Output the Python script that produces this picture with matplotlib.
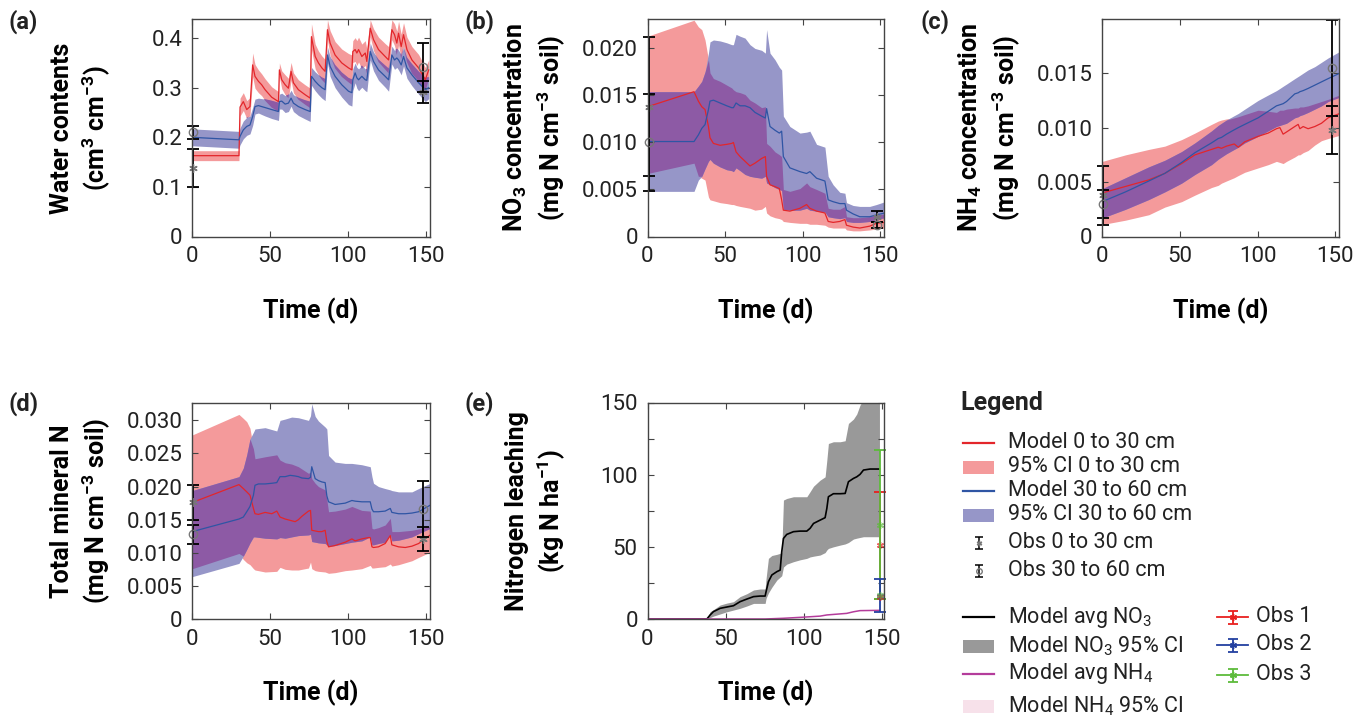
import numpy as np
import matplotlib
matplotlib.use("Agg")
from matplotlib import pyplot as plt
from matplotlib.patches import Rectangle

plt.rcParams["font.family"] = ["Roboto", "DejaVu Sans"]
plt.rcParams["mathtext.fontset"] = "custom"
plt.rcParams["mathtext.rm"] = "Roboto"
plt.rcParams["mathtext.bf"] = "Roboto:bold"
plt.rcParams["mathtext.default"] = "regular"

RED = "#e3262b"
BLUE = "#2f55a4"
RED_CI = "#f49a9b"
BLUE_CI = "#9696c8"
PURPLE = "#8d5aa5"
GRAY_CI = "#999999"
MAGENTA = "#b43c9b"
PINK_CI = "#f7e1ea"
OBS = "#777777"
STAR = (6, 2, 0)

# ---- (a) water contents ----
t_a = [0, 30, 30.7, 32.8, 35, 37.1, 38.8, 40.3, 42.5, 44.6, 46.8, 51, 55.4, 56, 57.5, 59.7, 61.8,
       63.5, 65, 68.2, 72.5, 75.8, 76.6, 79, 81.1, 83.3, 85.4, 86.9, 88.6, 91.8, 96.1, 100.4, 102.6,
       103.2, 104.7, 105.8, 106.9, 109, 111.2, 112.2, 114.4, 116.5, 119.7, 124, 126.2, 128.3, 130,
       131.5, 132.6, 134.3, 135.8, 138, 141.2, 145.5, 149.8, 152]
wc_red = [0.163, 0.163, 0.261, 0.272, 0.256, 0.262, 0.346, 0.323, 0.313, 0.306, 0.296, 0.281, 0.272,
          0.336, 0.316, 0.306, 0.299, 0.333, 0.310, 0.296, 0.286, 0.279, 0.403, 0.363, 0.350, 0.340,
          0.333, 0.417, 0.390, 0.366, 0.350, 0.340, 0.336, 0.373, 0.377, 0.370, 0.377, 0.363, 0.370,
          0.353, 0.420, 0.397, 0.377, 0.363, 0.356, 0.417, 0.407, 0.390, 0.410, 0.383, 0.407, 0.377,
          0.356, 0.340, 0.316, 0.336]
wc_blue = [0.200, 0.195, 0.202, 0.215, 0.222, 0.225, 0.242, 0.262, 0.264, 0.262, 0.260, 0.256, 0.252,
           0.272, 0.273, 0.267, 0.269, 0.279, 0.269, 0.262, 0.256, 0.252, 0.323, 0.313, 0.306, 0.300,
           0.296, 0.366, 0.343, 0.323, 0.306, 0.293, 0.290, 0.316, 0.330, 0.320, 0.316, 0.323, 0.316,
           0.315, 0.373, 0.353, 0.336, 0.323, 0.316, 0.366, 0.356, 0.360, 0.356, 0.346, 0.363, 0.340,
           0.326, 0.310, 0.296, 0.300]
wc_red_ci = [0.010, 0.010, 0.018, 0.018, 0.018, 0.018, 0.024, 0.024, 0.023, 0.022, 0.022, 0.021, 0.020,
             0.014, 0.018, 0.020, 0.020, 0.018, 0.020, 0.020, 0.020, 0.020, 0.026, 0.025, 0.024, 0.024,
             0.024, 0.020, 0.025, 0.027, 0.028, 0.029, 0.030, 0.022, 0.024, 0.025, 0.025, 0.025, 0.025,
             0.025, 0.017, 0.022, 0.025, 0.026, 0.027, 0.020, 0.022, 0.024, 0.024, 0.025, 0.024, 0.025,
             0.027, 0.027, 0.025, 0.020]
wc_blue_ci = [0.017, 0.017, 0.017, 0.018, 0.018, 0.018, 0.018, 0.015, 0.015, 0.016, 0.017, 0.018, 0.018,
              0.015, 0.016, 0.017, 0.017, 0.016, 0.017, 0.018, 0.019, 0.020, 0.018, 0.019, 0.020, 0.021,
              0.022, 0.016, 0.020, 0.023, 0.025, 0.027, 0.027, 0.022, 0.020, 0.021, 0.022, 0.022, 0.022,
              0.023, 0.017, 0.019, 0.021, 0.022, 0.023, 0.018, 0.019, 0.019, 0.020, 0.020, 0.019, 0.021,
              0.022, 0.023, 0.024, 0.022]
wc_obs_star = [0.138, 0.291]
wc_obs_star_err = [0.039, 0.022]
wc_obs_circ = [0.210, 0.341]
wc_obs_circ_err = [0.0125, 0.049]

# ---- (b) NO3 ----
t_b = [0, 30, 32.8, 35, 37.1, 39.3, 40.3, 42.5, 46.8, 51.1, 54.3, 55.4, 57.1, 59.7, 62.9, 66.1, 69.3,
       73.6, 76, 76.8, 79, 82.2, 85, 86.5, 87.6, 91.8, 98.3, 102.6, 104.7, 109, 114.4, 116.5, 119.7,
       124, 127.3, 128.3, 132.6, 136.9, 143.3, 147.6, 153]
no3_red = [0.0138, 0.0154, 0.0144, 0.0138, 0.0135, 0.0117, 0.0105, 0.0099, 0.0097, 0.0098, 0.0099,
           0.0100, 0.0090, 0.0085, 0.0080, 0.0075, 0.0078, 0.0083, 0.0085, 0.0064, 0.0055, 0.0053,
           0.0051, 0.0039, 0.0028, 0.0027, 0.0030, 0.0034, 0.0030, 0.0027, 0.0025, 0.0016, 0.0015,
           0.0016, 0.0018, 0.0012, 0.0010, 0.0009, 0.0011, 0.0014, 0.0015]
no3_blue = [0.0101, 0.0101, 0.0108, 0.0115, 0.0119, 0.0135, 0.0144, 0.0145, 0.0142, 0.0139, 0.0137,
            0.0137, 0.0142, 0.0139, 0.0139, 0.0137, 0.0132, 0.0128, 0.0126, 0.0136, 0.0117, 0.0113,
            0.0110, 0.0112, 0.0085, 0.0073, 0.0069, 0.0067, 0.0069, 0.0062, 0.0059, 0.0039, 0.0037,
            0.0035, 0.0035, 0.0028, 0.0024, 0.0021, 0.0021, 0.0023, 0.0025]
no3_red_hi = [0.0213, 0.0230, 0.0223, 0.0220, 0.0209, 0.0188, 0.0174, 0.0168, 0.0165, 0.0161, 0.0158,
              0.0156, 0.0154, 0.0153, 0.0151, 0.0145, 0.0142, 0.0137, 0.0138, 0.0099, 0.0096, 0.0090,
              0.0087, 0.0085, 0.0050, 0.0048, 0.0051, 0.0057, 0.0053, 0.0050, 0.0046, 0.0030, 0.0029,
              0.0029, 0.0032, 0.0021, 0.0020, 0.0020, 0.0021, 0.0023, 0.0024]
no3_red_lo = [0.0067, 0.0078, 0.0064, 0.0062, 0.0060, 0.0042, 0.0039, 0.0038, 0.0036, 0.0035, 0.0034,
              0.0034, 0.0033, 0.0032, 0.0031, 0.0030, 0.0028, 0.0029, 0.0032, 0.0025, 0.0022, 0.0020,
              0.0019, 0.0018, 0.0016, 0.0015, 0.0014, 0.0014, 0.0013, 0.0013, 0.0012, 0.0010, 0.0009,
              0.0009, 0.0009, 0.0007, 0.0006, 0.0006, 0.0007, 0.0008, 0.0009]
no3_blue_hi = [0.0154, 0.0154, 0.0160, 0.0165, 0.0175, 0.0195, 0.0207, 0.0209, 0.0208, 0.0206, 0.0204,
               0.0204, 0.0215, 0.0213, 0.0211, 0.0204, 0.0200, 0.0198, 0.0195, 0.0220, 0.0195, 0.0188,
               0.0180, 0.0177, 0.0128, 0.0117, 0.0110, 0.0111, 0.0112, 0.0098, 0.0095, 0.0064, 0.0055,
               0.0047, 0.0046, 0.0036, 0.0033, 0.0032, 0.0032, 0.0034, 0.0037]
no3_blue_lo = [0.0048, 0.0048, 0.0060, 0.0064, 0.0072, 0.0080, 0.0082, 0.0078, 0.0074, 0.0071, 0.0070,
               0.0069, 0.0073, 0.0070, 0.0066, 0.0064, 0.0063, 0.0062, 0.0064, 0.0057, 0.0055, 0.0052,
               0.0050, 0.0049, 0.0029, 0.0028, 0.0028, 0.0030, 0.0028, 0.0027, 0.0026, 0.0021, 0.0020,
               0.0019, 0.0020, 0.0016, 0.0015, 0.0015, 0.0016, 0.0018, 0.0020]
no3_obs_star = [0.0138, 0.0021]
no3_obs_star_err = [0.0074, 0.0006]
no3_obs_circ = [0.0100, 0.0012]
no3_obs_circ_err = [0.0052, 0.0003]

# ---- (c) NH4 ----
t_c = [0, 15, 30, 40.3, 51.1, 59.7, 70.4, 74.7, 76.8, 80, 85, 87.6, 91.8, 100.4, 106.9, 112.2, 114.4,
       116.5, 118.7, 124, 126.2, 127.3, 129.4, 132.6, 136.9, 141.2, 145.5, 153]
nh4_red = [0.0040, 0.0046, 0.0052, 0.0058, 0.0067, 0.0075, 0.0080, 0.0082, 0.0081, 0.0083, 0.0085,
           0.0082, 0.0087, 0.0092, 0.0095, 0.0099, 0.0100, 0.0094, 0.0096, 0.0101, 0.0103, 0.0099,
           0.0101, 0.0099, 0.0101, 0.0104, 0.0109, 0.0113]
nh4_blue = [0.0032, 0.0041, 0.0051, 0.0058, 0.0068, 0.0077, 0.0086, 0.0090, 0.0091, 0.0094, 0.0098,
            0.0100, 0.0103, 0.0109, 0.0115, 0.0120, 0.0121, 0.0122, 0.0124, 0.0131, 0.0132, 0.0133,
            0.0134, 0.0136, 0.0139, 0.0142, 0.0145, 0.0150]
nh4_red_hi = [0.0069, 0.0075, 0.0080, 0.0083, 0.0089, 0.0095, 0.0103, 0.0106, 0.0107, 0.0108, 0.0109,
              0.0110, 0.0112, 0.0116, 0.0115, 0.0114, 0.0116, 0.0116, 0.0117, 0.0118, 0.0118, 0.0119,
              0.0119, 0.0120, 0.0122, 0.0124, 0.0126, 0.0130]
nh4_red_lo = [0.0011, 0.0015, 0.0020, 0.0027, 0.0032, 0.0038, 0.0045, 0.0047, 0.0049, 0.0051, 0.0054,
              0.0056, 0.0059, 0.0063, 0.0066, 0.0069, 0.0068, 0.0067, 0.0069, 0.0073, 0.0075, 0.0075,
              0.0077, 0.0079, 0.0084, 0.0088, 0.0090, 0.0093]
nh4_blue_hi = [0.0044, 0.0054, 0.0064, 0.0070, 0.0078, 0.0086, 0.0097, 0.0102, 0.0104, 0.0107, 0.0111,
               0.0113, 0.0117, 0.0125, 0.0130, 0.0134, 0.0136, 0.0138, 0.0140, 0.0145, 0.0147, 0.0148,
               0.0150, 0.0153, 0.0156, 0.0160, 0.0164, 0.0170]
nh4_blue_lo = [0.0017, 0.0025, 0.0034, 0.0041, 0.0049, 0.0057, 0.0066, 0.0071, 0.0073, 0.0076, 0.0080,
               0.0082, 0.0086, 0.0092, 0.0097, 0.0101, 0.0102, 0.0103, 0.0104, 0.0109, 0.0110, 0.0111,
               0.0112, 0.0114, 0.0117, 0.0120, 0.0124, 0.0128]
nh4_obs_star = [0.0038, 0.0098]
nh4_obs_star_err = [0.0027, 0.0022]
nh4_obs_circ = [0.0030, 0.0155]
nh4_obs_circ_err = [0.0013, 0.0044]

# ---- (d) total mineral N ----
t_d = [0, 30, 32.8, 35, 37.1, 39.3, 40.3, 42.5, 46.8, 51.1, 54.3, 56.4, 59.7, 62.9, 66.1, 68.2, 70.4,
       74.7, 76, 76.8, 79, 81.1, 83.3, 85.4, 86.5, 87.6, 91.8, 98.3, 102.6, 104.7, 109, 113.3, 114.4,
       115.5, 116.5, 119.7, 124, 127.3, 128.3, 132.6, 136.9, 141.2, 145.5, 153]
tn_red = [0.0176, 0.0203, 0.0197, 0.0192, 0.0187, 0.0167, 0.0159, 0.0158, 0.0161, 0.0159, 0.0163,
          0.0154, 0.0151, 0.0149, 0.0147, 0.0150, 0.0155, 0.0163, 0.0164, 0.0134, 0.0133, 0.0132,
          0.0132, 0.0134, 0.0117, 0.0109, 0.0111, 0.0116, 0.0121, 0.0118, 0.0121, 0.0123, 0.0123,
          0.0109, 0.0108, 0.0109, 0.0114, 0.0126, 0.0112, 0.0109, 0.0108, 0.0110, 0.0114, 0.0127]
tn_blue = [0.0132, 0.0151, 0.0154, 0.0162, 0.0170, 0.0187, 0.0202, 0.0204, 0.0204, 0.0205, 0.0206,
           0.0215, 0.0215, 0.0217, 0.0216, 0.0215, 0.0213, 0.0212, 0.0214, 0.0230, 0.0212, 0.0209,
           0.0207, 0.0206, 0.0186, 0.0177, 0.0173, 0.0175, 0.0179, 0.0178, 0.0177, 0.0177, 0.0177,
           0.0166, 0.0162, 0.0162, 0.0163, 0.0167, 0.0161, 0.0159, 0.0159, 0.0160, 0.0162, 0.0172]
t_d_ci = [0, 30, 32.8, 35, 37.1, 39.3, 40.3, 46.8, 54.3, 56.4, 59.7, 63.9, 68.2, 74.7, 76, 76.8, 79,
          81.1, 85.4, 86.5, 87.6, 91.8, 98.3, 102.6, 109, 114.4, 115.5, 116.5, 119.7, 124, 127.3,
          128.3, 132.6, 141.2, 145.5, 153]
tn_red_hi = [0.0278, 0.0309, 0.0303, 0.0298, 0.0288, 0.0257, 0.0242, 0.0245, 0.0248, 0.0240, 0.0236,
             0.0234, 0.0230, 0.0220, 0.0222, 0.0212, 0.0205, 0.0200, 0.0195, 0.0180, 0.0162, 0.0163,
             0.0166, 0.0170, 0.0164, 0.0163, 0.0137, 0.0136, 0.0138, 0.0142, 0.0152, 0.0132, 0.0132,
             0.0134, 0.0136, 0.0140]
tn_red_lo = [0.0076, 0.0099, 0.0090, 0.0085, 0.0082, 0.0076, 0.0074, 0.0071, 0.0072, 0.0078, 0.0075,
             0.0074, 0.0074, 0.0077, 0.0086, 0.0076, 0.0073, 0.0072, 0.0071, 0.0070, 0.0069, 0.0070,
             0.0073, 0.0074, 0.0076, 0.0081, 0.0077, 0.0077, 0.0078, 0.0079, 0.0083, 0.0080, 0.0082,
             0.0088, 0.0093, 0.0101]
tn_blue_hi = [0.0194, 0.0215, 0.0228, 0.0248, 0.0272, 0.0282, 0.0287, 0.0289, 0.0284, 0.0300, 0.0302,
              0.0305, 0.0304, 0.0300, 0.0307, 0.0325, 0.0306, 0.0299, 0.0290, 0.0287, 0.0247, 0.0237,
              0.0235, 0.0235, 0.0233, 0.0230, 0.0215, 0.0205, 0.0200, 0.0197, 0.0195, 0.0194, 0.0192,
              0.0192, 0.0197, 0.0205]
tn_blue_lo = [0.0064, 0.0084, 0.0095, 0.0105, 0.0115, 0.0124, 0.0124, 0.0122, 0.0121, 0.0123, 0.0122,
              0.0124, 0.0126, 0.0127, 0.0128, 0.0117, 0.0116, 0.0115, 0.0114, 0.0112, 0.0110, 0.0111,
              0.0114, 0.0116, 0.0118, 0.0124, 0.0112, 0.0112, 0.0114, 0.0116, 0.0128, 0.0118, 0.0119,
              0.0124, 0.0129, 0.0137]
tn_obs_star = [0.0176, 0.0121]
tn_obs_star_err = [0.0027, 0.0018]
tn_obs_circ = [0.0128, 0.0166]
tn_obs_circ_err = [0.0014, 0.0042]

obs_days = [0.7, 148]

# ---- (e) nitrogen leaching ----
t_e = [0, 37.9, 40, 42.1, 46.4, 50.6, 54.9, 59.1, 63.4, 67.7, 71.9, 75.1, 75.7, 77.2, 79.4, 82.6, 84.7,
       85.7, 86.8, 88.9, 93.2, 97.4, 101.7, 103.8, 106, 110.2, 113.4, 114.5, 115.5, 118.7, 123, 126.2,
       128.3, 131.5, 133.6, 135.7, 137.9, 142.1, 148.1]
leach_no3 = [0, 0, 2.8, 5.1, 7.4, 8.3, 9.2, 12, 13.8, 15.5, 15.9, 15.9, 18.9, 25.8, 30.5, 32.8, 33.9,
             46.6, 55.8, 58.6, 60.5, 60.9, 60.9, 62.8, 66.2, 68.5, 70.2, 76.6, 84.7, 86.8, 86.8, 87,
             95.1, 97.4, 98.5, 100.2, 103.2, 103.9, 103.9]
leach_no3_hi = [0, 0, 5.1, 6.5, 9.7, 11, 12, 15.5, 17.5, 20.1, 20.8, 20.8, 28, 42, 44, 44.8, 45.5, 46,
                82.4, 83.5, 84.7, 84.7, 84.7, 88.2, 92, 96.2, 98.5, 110, 121.6, 122.8, 122.8, 123.5,
                135.5, 138.5, 142, 148.2, 152, 155, 155]
leach_no3_lo = [0, 0, 1, 2, 3.5, 5, 6.2, 7.4, 9, 10.8, 10.8, 10.8, 14.3, 18, 22, 27, 29, 30, 36, 38,
                39.7, 41, 42, 43, 43.5, 44.3, 46, 47.8, 48.9, 50, 51.2, 52, 53, 55.4, 56, 56.5, 57, 57,
                57]
t_nh4 = [0, 75, 86.8, 100, 110.2, 114.5, 127.2, 131.5, 135.7, 148.1]
leach_nh4 = [0, 0, 0.5, 1.3, 2.0, 2.8, 3.9, 5.0, 5.8, 6.0]
leach_obs_day = 148.5
leach_obs = {"red": (51, 37, 37), "green": (65, 51, 52), "blue": (16, 11.4, 11.5)}
leach_obs_extra = {"red": 15, "green": 16.5}
OBS_COL = {"red": "#e8201f", "green": "#5dbb3b", "blue": "#2340a0"}


def style(ax, xmax, ymax, yticks, ylabels, ylabel):
    ax.set_xlim(0, xmax)
    ax.set_ylim(0, ymax)
    ax.set_xticks([0, 50, 100, 150])
    ax.set_yticks(yticks)
    ax.set_yticklabels(ylabels)
    ax.tick_params(direction="in", top=True, right=True, length=4, width=0.8,
                   labelsize=16, color="#444444", labelcolor="#222222")
    ax.tick_params(axis="x", pad=7)
    ax.tick_params(axis="y", pad=7)
    for s in ax.spines.values():
        s.set_color("#444444")
        s.set_linewidth(1.0)
    ax.set_xlabel("Time (d)", fontsize=18, fontweight="bold")
    ax.xaxis.set_label_coords(0.5, -0.28)
    ax.set_ylabel(ylabel, fontsize=18, fontweight="bold", linespacing=1.2)
    ax.yaxis.set_label_coords(-0.34, 0.5)


def depth_panel(ax, t, red, blue, tci, red_lo, red_hi, blue_lo, blue_hi,
                star, star_err, circ, circ_err):
    red_lo, red_hi = np.asarray(red_lo), np.asarray(red_hi)
    blue_lo, blue_hi = np.asarray(blue_lo), np.asarray(blue_hi)
    ax.fill_between(tci, red_lo, red_hi, color=RED_CI, lw=0)
    ax.fill_between(tci, blue_lo, blue_hi, color=BLUE_CI, lw=0)
    lo = np.maximum(red_lo, blue_lo)
    hi = np.minimum(red_hi, blue_hi)
    ax.fill_between(tci, lo, hi, where=hi > lo, interpolate=True, color=PURPLE, lw=0)
    ax.plot(t, red, color=RED, lw=0.9)
    ax.plot(t, blue, color=BLUE, lw=0.9)
    ax.errorbar(obs_days, star, yerr=star_err, fmt="none", ecolor="k", elinewidth=1.3,
                capsize=4, capthick=1.3, clip_on=False)
    ax.plot(obs_days, star, ls="none", marker=STAR, mec=OBS, mew=1, ms=6, clip_on=False)
    ax.errorbar(obs_days, circ, yerr=circ_err, fmt="o", color="k", ecolor="k", elinewidth=1.3,
                capsize=4, capthick=1.3, mfc="none", mec=OBS, ms=6, clip_on=False)


fig = plt.figure(figsize=(13.56, 7.17), dpi=100)
W, H = 1356, 717


def box(left, right, top, bottom):
    return [left / W, (H - bottom) / H, (right - left) / W, (bottom - top) / H]


ax_a = fig.add_axes(box(192.3, 429.5, 19.3, 236.5))
ax_b = fig.add_axes(box(647.5, 884, 19.3, 236.5))
ax_c = fig.add_axes(box(1102.3, 1339, 19.3, 236.5))
ax_d = fig.add_axes(box(192.3, 429.5, 402.5, 619))
ax_e = fig.add_axes(box(647.5, 884, 402.5, 619))

# (a)
wr = np.asarray(wc_red)
wb = np.asarray(wc_blue)
depth_panel(ax_a, t_a, wc_red, wc_blue, t_a,
            wr - np.asarray(wc_red_ci), wr + np.asarray(wc_red_ci),
            wb - np.asarray(wc_blue_ci), wb + np.asarray(wc_blue_ci),
            wc_obs_star, wc_obs_star_err, wc_obs_circ, wc_obs_circ_err)
style(ax_a, 152.5, 0.438, [0, 0.1, 0.2, 0.3, 0.4], ["0", "0.1", "0.2", "0.3", "0.4"],
      "Water contents\n(cm$^3$ cm$^{-3}$)")

# (b)
depth_panel(ax_b, t_b, no3_red, no3_blue, t_b, no3_red_lo, no3_red_hi, no3_blue_lo, no3_blue_hi,
            no3_obs_star, no3_obs_star_err, no3_obs_circ, no3_obs_circ_err)
style(ax_b, 152.5, 0.0231, [0, 0.005, 0.010, 0.015, 0.020],
      ["0", "0.005", "0.010", "0.015", "0.020"],
      "NO$_3$ concentration\n(mg N cm$^{-3}$ soil)")

# (c)
depth_panel(ax_c, t_c, nh4_red, nh4_blue, t_c, nh4_red_lo, nh4_red_hi, nh4_blue_lo, nh4_blue_hi,
            nh4_obs_star, nh4_obs_star_err, nh4_obs_circ, nh4_obs_circ_err)
style(ax_c, 152.5, 0.01995, [0, 0.005, 0.010, 0.015], ["0", "0.005", "0.010", "0.015"],
      "NH$_4$ concentration\n(mg N cm$^{-3}$ soil)")

# (d)
depth_panel(ax_d, t_d, tn_red, tn_blue, t_d_ci, tn_red_lo, tn_red_hi, tn_blue_lo, tn_blue_hi,
            tn_obs_star, tn_obs_star_err, tn_obs_circ, tn_obs_circ_err)
style(ax_d, 152.5, 0.0327, [0, 0.005, 0.010, 0.015, 0.020, 0.025, 0.030],
      ["0", "0.005", "0.010", "0.015", "0.020", "0.025", "0.030"],
      "Total mineral N\n(mg N cm$^{-3}$ soil)")

# (e)
ax_e.fill_between(t_e, leach_no3_lo, leach_no3_hi, color=GRAY_CI, lw=0)
ax_e.plot(t_e, leach_no3, color="k", lw=1.2)
ax_e.plot(t_nh4, leach_nh4, color=MAGENTA, lw=1.1)
for key in ["red", "green", "blue"]:
    y, dn, up = leach_obs[key]
    ax_e.errorbar([leach_obs_day], [y], yerr=[[dn], [up]], fmt="none", ecolor=OBS_COL[key],
                  elinewidth=1.3, capsize=4, capthick=1.3, clip_on=False)
    ax_e.plot([leach_obs_day], [y], ls="none", marker=STAR, mec=OBS_COL[key], ms=5, alpha=0.7,
              clip_on=False)
for key, y in leach_obs_extra.items():
    ax_e.plot([leach_obs_day], [y], ls="none", marker=STAR, mec=OBS_COL[key], ms=5, alpha=0.6)
style(ax_e, 151, 150, [0, 25, 50, 75, 100, 125, 150], ["0", "", "50", "", "100", "", "150"],
      "Nitrogen leaching\n(kg N ha$^{-1}$)")

# overlay in pixel coordinates: panel letters and legend
lax = fig.add_axes([0, 0, 1, 1])
lax.set_xlim(0, W)
lax.set_ylim(H, 0)
lax.axis("off")
lax.patch.set_alpha(0)

for lab, x, y in [("(a)", 8, 22), ("(b)", 465, 22), ("(c)", 920, 22), ("(d)", 8, 404), ("(e)", 465, 404)]:
    lax.text(x, y, lab, fontsize=17, fontweight="bold", va="center", ha="left", color="#222222")

lax.text(960, 403, "Legend", fontsize=18, fontweight="bold", va="center", color="#222222")

h0, h1, tx = 963, 994, 1008
rows1 = [443, 467, 491, 515, 543, 571]
labels1 = ["Model 0 to 30 cm", "95% CI 0 to 30 cm", "Model 30 to 60 cm", "95% CI 30 to 60 cm",
           "Obs 0 to 30 cm", "Obs 30 to 60 cm"]
lax.plot([h0, h1], [rows1[0]] * 2, color=RED, lw=1.6)
lax.add_patch(Rectangle((h0, rows1[1] - 6.5), h1 - h0, 13, color=RED_CI, lw=0))
lax.plot([h0, h1], [rows1[2]] * 2, color=BLUE, lw=1.6)
lax.add_patch(Rectangle((h0, rows1[3] - 6.5), h1 - h0, 13, color=BLUE_CI, lw=0))
for y, m in [(rows1[4], STAR), (rows1[5], "o")]:
    lax.errorbar([978.5], [y], yerr=[6], fmt="none", ecolor="k", elinewidth=1.1, capsize=3,
                 capthick=1.1)
    lax.plot([978.5], [y], ls="none", marker=m, mfc="none", mec=OBS, ms=4)
for y, s in zip(rows1, labels1):
    lax.text(tx, y, s, fontsize=15.5, va="center", color="#222222")

rows2 = [617, 646, 674, 706]
labels2 = ["Model avg NO$_3$", "Model NO$_3$ 95% CI", "Model avg NH$_4$", "Model NH$_4$ 95% CI"]
lax.plot([h0, h1], [rows2[0]] * 2, color="k", lw=1.6)
lax.add_patch(Rectangle((h0, rows2[1] - 6.5), h1 - h0, 13, color=GRAY_CI, lw=0))
lax.plot([h0, h1], [rows2[2]] * 2, color=MAGENTA, lw=1.6)
lax.add_patch(Rectangle((h0, rows2[3] - 6.5), h1 - h0, 13, color=PINK_CI, lw=0))
for y, s in zip(rows2, labels2):
    lax.text(tx, y, s, fontsize=15.5, va="center", color="#222222")

rows3 = [617, 645, 675]
for y, key, s in zip(rows3, ["red", "blue", "green"], ["Obs 1", "Obs 2", "Obs 3"]):
    lax.plot([1217, 1248], [y, y], color=OBS_COL[key], lw=1.3)
    lax.errorbar([1232.5], [y], yerr=[6.5], fmt="none", ecolor=OBS_COL[key], elinewidth=1.3,
                 capsize=3.5, capthick=1.3)
    lax.plot([1232.5], [y], ls="none", marker=STAR, mec=OBS_COL[key], ms=5)
    lax.text(1256, y, s, fontsize=15.5, va="center", color="#222222")

fig.savefig("out.png", dpi=100)
